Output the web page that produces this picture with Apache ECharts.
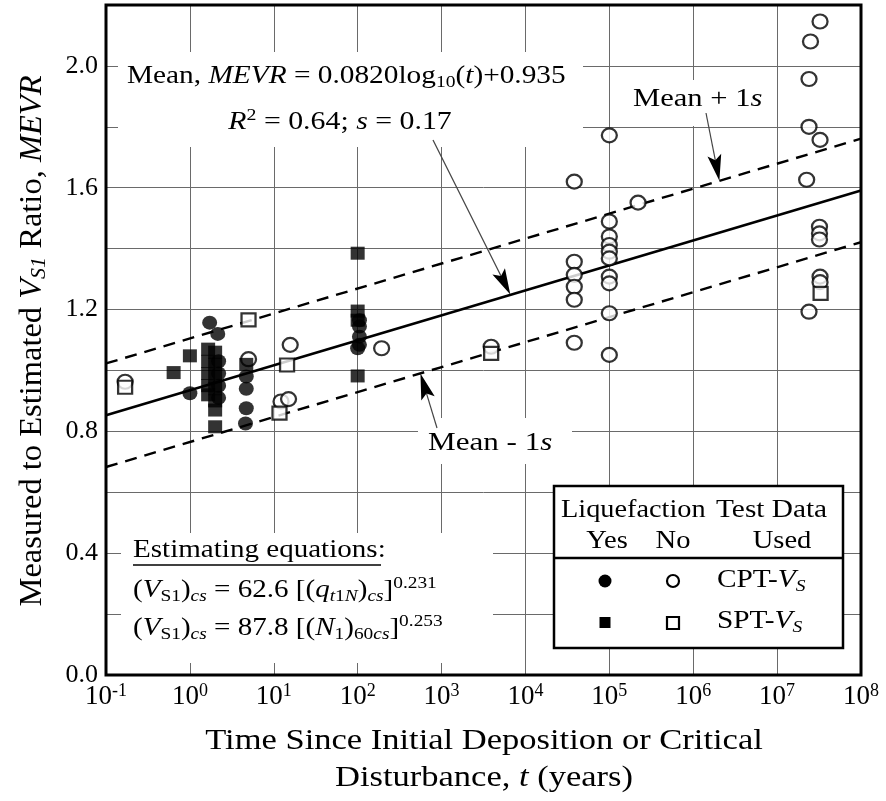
<!DOCTYPE html>
<html><head><meta charset="utf-8">
<script src="https://cdn.jsdelivr.net/npm/echarts/dist/echarts.min.js"></script>
<style>html,body{margin:0;padding:0;background:#fff}#c{width:886px;height:801px}</style>
</head><body><div id="c"></div>
<script>
// ---- tick labels ----
const xTickExponents = [-1, 0, 1, 2, 3, 4, 5, 6, 7, 8];
const yTickLabels = ['0.0', '0.4', '0.8', '1.2', '1.6', '2.0'];

// ---- data: Liquefaction Yes, CPT-Vs (filled circles) ----
const cptYesT = [1.0, 1.72, 2.15, 2.2, 2.2, 2.2, 2.2, 4.7, 4.7, 4.7, 4.6, 105, 105, 105, 105, 100];
const cptYesV = [0.925, 1.157, 1.12, 1.03, 0.99, 0.95, 0.91, 0.98, 0.94, 0.876, 0.826, 1.165, 1.144, 1.111, 1.084, 1.073];

// ---- Liquefaction Yes, SPT-Vs (filled squares) ----
const sptYesT = [0.64, 1.0, 1.65, 1.65, 1.65, 1.65, 1.65, 2.0, 2.0, 2.0, 2.0, 2.0, 2.0, 2.0, 4.7, 100, 100, 100, 100];
const sptYesV = [0.993, 1.048, 1.07, 1.03, 0.99, 0.95, 0.92, 1.06, 1.02, 0.98, 0.94, 0.90, 0.87, 0.815, 1.02, 1.385, 1.195, 1.165, 0.982];

// ---- Liquefaction No, CPT-Vs (open circles) ----
const cptNoT = [0.169, 5.0, 15.7, 12.2, 15.0, 193, 3900,
  38200, 38200, 38200, 38200, 38200, 38200,
  1e5, 1e5, 1e5, 1e5, 1e5, 1e5, 1e5, 1e5, 1e5, 1e5,
  2.2e5,
  3.25e7, 2.5e7, 2.4e7, 2.4e7, 3.25e7, 2.25e7, 3.2e7, 3.2e7, 3.2e7, 3.25e7, 3.25e7, 2.4e7];
const cptNoV = [0.963, 1.037, 1.084, 0.898, 0.906, 1.073, 1.078,
  1.62, 1.357, 1.314, 1.275, 1.232, 1.091,
  1.772, 1.489, 1.44, 1.412, 1.39, 1.368, 1.308, 1.286, 1.188, 1.051,
  1.551,
  2.146, 2.08, 1.957, 1.80, 1.757, 1.626, 1.472, 1.45, 1.43, 1.308, 1.29, 1.193];

// ---- Liquefaction No, SPT-Vs (open squares) ----
const sptNoT = [0.169, 5.0, 14.4, 11.7, 3900, 3.3e7];
const sptNoV = [0.945, 1.166, 1.018, 0.86, 1.056, 1.253];

// ---- fitted lines (end points at t = 0.1 and t = 1e8) ----
const fitT = [0.1, 1e8];
const meanV = [0.853, 1.591];
const upperV = [1.023, 1.761];
const lowerV = [0.683, 1.421];

// ---- annotation arrow tips (data coords) ----
const arrowTipT = [6600, 2.05e6, 560];
const arrowTipV = [1.249, 1.623, 0.99];

const FONT = 'Liberation Serif';
const zip = (a, b) => a.map((v, i) => [v, b[i]]);

const chart = echarts.init(document.getElementById('c'), null, {renderer: 'canvas'});

const richBase = {
  n: {fontFamily: FONT, fontSize: 25.5, lineHeight: 30, color: '#000'},
  i: {fontFamily: FONT, fontSize: 25.5, lineHeight: 30, fontStyle: 'italic', color: '#000'},
  sub: {fontFamily: FONT, fontSize: 17, lineHeight: 17, verticalAlign: 'bottom', color: '#000'},
  isub: {fontFamily: FONT, fontSize: 17, lineHeight: 17, verticalAlign: 'bottom', fontStyle: 'italic', color: '#000'},
  sup: {fontFamily: FONT, fontSize: 17, lineHeight: 17, verticalAlign: 'top', color: '#000'}
};

const option = {
  backgroundColor: '#fff',
  animation: false,
  grid: {left: 106, top: 5, width: 755, height: 670, show: false},
  xAxis: {
    type: 'log', logBase: 10, min: 0.1, max: 1e8,
    axisLine: {show: false},
    axisTick: {show: false},
    minorTick: {show: false},
    splitLine: {show: true, lineStyle: {color: '#6a6a6a', width: 1}},
    axisLabel: {
      margin: 7,
      formatter: function (v) {
        const e = Math.round(Math.log10(v));
        if (xTickExponents.indexOf(e) < 0) return '';
        return '{b|10}{s|' + e + '}';
      },
      rich: {
        b: {fontFamily: FONT, fontSize: 27, lineHeight: 30, color: '#000'},
        s: {fontFamily: FONT, fontSize: 18, lineHeight: 18, verticalAlign: 'top', color: '#000'}
      }
    }
  },
  yAxis: {
    type: 'value', min: 0, max: 2.2, interval: 0.2,
    axisLine: {show: false},
    axisTick: {show: false},
    splitLine: {show: true, lineStyle: {color: '#6a6a6a', width: 1}},
    axisLabel: {
      margin: 8,
      fontFamily: FONT, fontSize: 26, color: '#000',
      formatter: function (v) {
        const s = v.toFixed(1);
        return yTickLabels.indexOf(s) >= 0 ? s : '';
      }
    }
  },
  series: [
    {type: 'line', data: zip(fitT, meanV), symbol: 'none', z: 3,
     lineStyle: {color: '#000', width: 2.6}},
    {type: 'line', data: zip(fitT, upperV), symbol: 'none', z: 3,
     lineStyle: {color: '#000', width: 2.4, type: [12, 8]}},
    {type: 'line', data: zip(fitT, lowerV), symbol: 'none', z: 3,
     lineStyle: {color: '#000', width: 2.4, type: [12, 8]}},
    {type: 'scatter', name: 'CPT No', data: zip(cptNoT, cptNoV), symbol: 'circle', symbolSize: [15, 14], z: 4,
     itemStyle: {color: '#fff', borderColor: '#000', borderWidth: 2.2}},
    {type: 'scatter', name: 'SPT No', data: zip(sptNoT, sptNoV), symbol: 'rect', symbolSize: [14, 13], z: 4,
     itemStyle: {color: '#fff', borderColor: '#000', borderWidth: 2.2}},
    {type: 'scatter', name: 'CPT Yes', data: zip(cptYesT, cptYesV), symbol: 'circle', symbolSize: [15, 14], z: 5,
     itemStyle: {color: '#000'}},
    {type: 'scatter', name: 'SPT Yes', data: zip(sptYesT, sptYesV), symbol: 'rect', symbolSize: [14, 13], z: 5,
     itemStyle: {color: '#000'}}
  ]
};
chart.setOption(option);

// ---- overlay graphics ----
const tl = chart.convertToPixel({gridIndex: 0}, [0.1, 2.2]);
const br = chart.convertToPixel({gridIndex: 0}, [1e8, 0]);

function whiteBox(x, y, w, h) {
  return {type: 'rect', z: 1, shape: {x: x, y: y, width: w, height: h}, style: {fill: '#fff'}, silent: true};
}
function txt(x, y, text, align, sx) {
  return {type: 'text', z: 50, x: x, y: y, scaleX: sx || 1.14, scaleY: 1,
    style: {text: text, rich: richBase, align: align || 'left', verticalAlign: 'middle',
      fontFamily: FONT, fontSize: 25.5, fill: '#000'}};
}
function arrow(tail, tip) {
  const dx = tip[0] - tail[0], dy = tip[1] - tail[1];
  const L = Math.sqrt(dx * dx + dy * dy);
  const ux = dx / L, uy = dy / L, px = -uy, py = ux;
  const hl = 26, hw = 7;
  const bx = tip[0] - ux * hl, by = tip[1] - uy * hl;
  const nx = tip[0] - ux * hl * 0.8, ny = tip[1] - uy * hl * 0.8;
  return [
    {type: 'line', z: 50, shape: {x1: tail[0], y1: tail[1], x2: nx, y2: ny},
     style: {stroke: '#444', lineWidth: 1.2}},
    {type: 'polygon', z: 50, shape: {points: [tip, [bx + px * hw, by + py * hw], [nx, ny], [bx - px * hw, by - py * hw]]},
     style: {fill: '#000'}}
  ];
}

const tips = arrowTipT.map((t, i) => chart.convertToPixel({gridIndex: 0}, [t, arrowTipV[i]]));

const g = [];
// white boxes behind annotation texts
g.push(whiteBox(118, 52, 465, 95));
g.push(whiteBox(628, 80, 146, 46));
g.push(whiteBox(418, 418, 154, 46));
g.push(whiteBox(121, 533, 372, 130));

// plot frame
g.push({type: 'rect', z: 60, shape: {x: tl[0], y: tl[1], width: br[0] - tl[0], height: br[1] - tl[1]},
  style: {fill: 'none', stroke: '#000', lineWidth: 3}});

// annotations
g.push(txt(127, 76, '{n|Mean, }{i|MEVR}{n| = 0.0820log}{sub|10}{n|(}{i|t}{n|)+0.935}', 'left', 1.15));
g.push(txt(340, 122, '{i|R}{sup|2}{n| = 0.64; }{i|s}{n| = 0.17}', 'center', 1.17));
g.push(txt(633, 99, '{n|Mean + 1}{i|s}', 'left', 1.2));
g.push(txt(428, 443, '{n|Mean - 1}{i|s}', 'left', 1.22));
arrow([433, 140], tips[0]).forEach(e => g.push(e));
arrow([706, 113], tips[1]).forEach(e => g.push(e));
arrow([437, 428], tips[2]).forEach(e => g.push(e));

// estimating equations
g.push(txt(133, 550, '{n|Estimating equations:}'));
g.push({type: 'line', z: 50, shape: {x1: 133, y1: 565, x2: 381, y2: 565}, style: {stroke: '#000', lineWidth: 1.5}});
g.push(txt(133, 590, '{n|(}{i|V}{sub|S1}{n|)}{isub|cs}{n| = 62.6 [(}{i|q}{isub|t}{sub|1}{isub|N}{n|)}{isub|cs}{n|]}{sup|0.231}'));
g.push(txt(133, 628, '{n|(}{i|V}{sub|S1}{n|)}{isub|cs}{n| = 87.8 [(}{i|N}{sub|1}{n|)}{sub|60}{isub|cs}{n|]}{sup|0.253}'));

// legend box
g.push({type: 'rect', z: 50, shape: {x: 554, y: 486, width: 289, height: 162}, style: {fill: '#fff', stroke: '#000', lineWidth: 2.5}});
g.push({type: 'line', z: 51, shape: {x1: 554, y1: 558, x2: 843, y2: 558}, style: {stroke: '#000', lineWidth: 2.5}});
g.push(txt(561, 510, '{n|Liquefaction}', 'left', 1.11));
g.push(txt(716, 510, '{n|Test Data}', 'left', 1.15));
g.push(txt(607, 541, '{n|Yes}', 'center', 1.12));
g.push(txt(673, 541, '{n|No}', 'center', 1.12));
g.push(txt(782, 541, '{n|Used}', 'center', 1.12));
g.push(txt(717, 580, '{n|CPT-}{i|V}{isub|S}', 'left', 1.15));
g.push(txt(717, 621, '{n|SPT-}{i|V}{isub|S}', 'left', 1.15));
g.push({type: 'circle', z: 52, shape: {cx: 605, cy: 581, r: 6.5}, style: {fill: '#000'}});
g.push({type: 'circle', z: 52, shape: {cx: 673, cy: 581, r: 6}, style: {fill: '#fff', stroke: '#000', lineWidth: 2.2}});
g.push({type: 'rect', z: 52, shape: {x: 599.5, y: 617, width: 11, height: 11}, style: {fill: '#000'}});
g.push({type: 'rect', z: 52, shape: {x: 667, y: 617, width: 12, height: 12}, style: {fill: '#fff', stroke: '#000', lineWidth: 2.2}});

// axis titles
g.push({type: 'text', z: 50, x: 32, y: 341, rotation: Math.PI / 2,
  style: {text: '{t|Measured to Estimated }{ti|V}{ts|S1}{t| Ratio, }{ti|MEVR}', align: 'center', verticalAlign: 'middle',
    rich: {
      t: {fontFamily: FONT, fontSize: 32.5, lineHeight: 36, color: '#000'},
      ti: {fontFamily: FONT, fontSize: 32.5, lineHeight: 36, fontStyle: 'italic', color: '#000'},
      ts: {fontFamily: FONT, fontSize: 22, lineHeight: 22, verticalAlign: 'bottom', fontStyle: 'italic', color: '#000'}
    }}});
g.push({type: 'text', z: 50, x: 484, y: 741, scaleX: 1.17,
  style: {text: 'Time Since Initial Deposition or Critical', align: 'center', verticalAlign: 'middle',
    fontFamily: FONT, fontSize: 29.5, fill: '#000'}});
g.push({type: 'text', z: 50, x: 484, y: 778, scaleX: 1.17,
  style: {text: '{t|Disturbance, }{ti|t}{t| (years)}', align: 'center', verticalAlign: 'middle',
    rich: {
      t: {fontFamily: FONT, fontSize: 29.5, lineHeight: 34, color: '#000'},
      ti: {fontFamily: FONT, fontSize: 29.5, lineHeight: 34, fontStyle: 'italic', color: '#000'}
    }}});

chart.setOption({graphic: {elements: g}});
</script>
</body></html>
